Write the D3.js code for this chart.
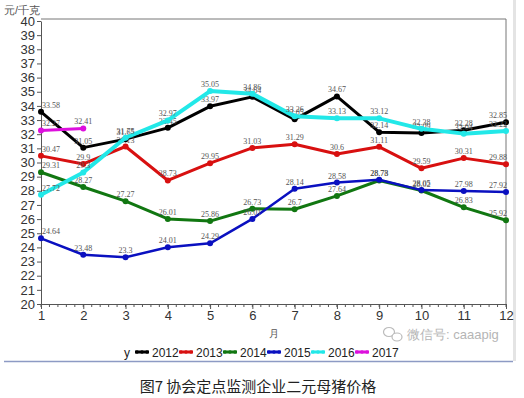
<!DOCTYPE html>
<html>
<head>
<meta charset="utf-8">
<script src="https://cdn.jsdelivr.net/npm/d3@7"></script>
<style>
  body { margin: 0; background: #fff; }
  svg { display: block; font-family: "Liberation Sans", Arial, sans-serif; }
</style>
</head>
<body>
<div id="chart"></div>
<script>
// months and yearly series (元/千克)
const months = [1, 2, 3, 4, 5, 6, 7, 8, 9, 10, 11, 12];
const years = ["2012", "2013", "2014", "2015", "2016", "2017"];
const colors = ["#000000", "#d81010", "#117711", "#0a10c0", "#22e8e8", "#dd10dd"];
const s2012 = [33.58, 31.05, 31.65, 32.45, 33.97, 34.64, 33.05, 34.67, 32.14, 32.09, 32.28, 32.85];
const s2013 = [30.47, 29.9, 31.13, 28.73, 29.95, 31.03, 31.29, 30.6, 31.11, 29.59, 30.31, 29.88];
const s2014 = [29.31, 28.27, 27.27, 26.01, 25.86, 26.73, 26.7, 27.64, 28.73, 28.02, 26.83, 25.92];
const s2015 = [24.64, 23.48, 23.3, 24.01, 24.29, 26.01, 28.14, 28.58, 28.78, 28.05, 27.98, 27.92];
const s2016 = [27.72, 29.3, 31.75, 32.97, 35.05, 34.86, 33.26, 33.13, 33.12, 32.38, 32.04, 32.22];
const s2017 = [32.27, 32.41];
const seriesValues = [s2012, s2013, s2014, s2015, s2016, s2017];
const yTicks = d3.range(20, 41);

const width = 524, height = 398;
const margin = {top: 21, left: 41, right: 18, bottom: 95};

const svg = d3.select("#chart").append("svg")
  .attr("width", width)
  .attr("height", height);

const x = d3.scaleLinear().domain([1, 12]).range([margin.left, width - margin.right]);
const y = d3.scaleLinear().domain([20, 40]).range([height - margin.bottom + 1, margin.top]);

// frame (top + right)
svg.append("path")
  .attr("d", `M${margin.left},19H${x(12)}V${y(20)}`)
  .attr("fill", "none")
  .attr("stroke", "#777")
  .attr("stroke-width", 1);

// outer decoration lines of the screenshot
svg.append("line")
  .attr("x1", 4).attr("x2", 513).attr("y1", 361.5).attr("y2", 361.5)
  .attr("stroke", "#8d9ac4").attr("stroke-width", 1.5);
svg.append("line")
  .attr("x1", 514.5).attr("x2", 514.5).attr("y1", 0).attr("y2", 361)
  .attr("stroke", "#e4e4e4").attr("stroke-width", 3);

// Y axis
const yAxis = svg.append("g")
  .attr("transform", `translate(${margin.left},0)`)
  .call(d3.axisLeft(y).tickValues(yTicks).tickSize(4).tickSizeOuter(0).tickPadding(2));
yAxis.select(".domain").attr("stroke", "#555");
yAxis.selectAll(".tick line").attr("stroke", "#555");
yAxis.selectAll("text").attr("font-size", 13).attr("fill", "#333");

// X axis with minor ticks
const minor = d3.range(1, 12.001, 0.2);
svg.append("g")
  .attr("transform", `translate(0,${y(20)})`)
  .selectAll("line")
  .data(minor)
  .join("line")
    .attr("x1", d => x(d)).attr("x2", d => x(d))
    .attr("y1", 0).attr("y2", 3)
    .attr("stroke", "#555");
const xAxis = svg.append("g")
  .attr("transform", `translate(0,${y(20)})`)
  .call(d3.axisBottom(x).tickValues(months).tickSize(5).tickSizeOuter(0).tickPadding(2));
xAxis.select(".domain").attr("stroke", "#555");
xAxis.selectAll(".tick line").attr("stroke", "#555");
xAxis.selectAll("text").attr("font-size", 13).attr("fill", "#333");

// axis titles
svg.append("text")
  .attr("x", 4).attr("y", 14)
  .attr("font-size", 11).attr("fill", "#555")
  .text("元/千克");
svg.append("text")
  .attr("x", x(6.5)).attr("y", 337)
  .attr("text-anchor", "middle")
  .attr("font-size", 10).attr("fill", "#555")
  .text("月");

// lines, points, labels
const line = d3.line()
  .x((d, i) => x(months[i]))
  .y(d => y(d));

const widths = [3, 3, 3, 2.5, 4, 3];

seriesValues.forEach((vals, k) => {
  svg.append("path")
    .datum(vals)
    .attr("fill", "none")
    .attr("stroke", colors[k])
    .attr("stroke-width", widths[k])
    .attr("stroke-linejoin", "round")
    .attr("d", line);

  svg.selectAll(null)
    .data(vals)
    .join("circle")
      .attr("cx", (d, i) => x(months[i]))
      .attr("cy", d => y(d))
      .attr("r", 3)
      .attr("fill", colors[k]);

  svg.selectAll(null)
    .data(vals)
    .join("text")
      .attr("x", (d, i) => Math.max(x(1) + 10, Math.min(x(12) - 8, x(months[i]))))
      .attr("y", d => y(d) - 4)
      .attr("text-anchor", "middle")
      .attr("font-family", "Liberation Serif, serif")
      .attr("font-size", 8)
      .attr("fill", "#555")
      .text(d => d);
});

// legend
const legend = svg.append("g").attr("transform", "translate(0,352)");
legend.append("text")
  .attr("x", 124).attr("y", 5)
  .attr("font-size", 12).attr("fill", "#222")
  .text("y");
years.forEach((yr, k) => {
  const lx = 135 + k * 44;
  legend.append("line")
    .attr("x1", lx).attr("x2", lx + 14)
    .attr("stroke", colors[k]).attr("stroke-width", 3);
  legend.selectAll(null)
    .data([lx + 2, lx + 7, lx + 12])
    .join("circle")
      .attr("cx", d => d).attr("cy", 0).attr("r", 1.8)
      .attr("fill", colors[k]);
  legend.append("text")
    .attr("x", lx + 17).attr("y", 5)
    .attr("font-size", 12).attr("fill", "#222")
    .text(yr);
});

// watermark
const wm = svg.append("g").attr("fill", "#bbb").attr("stroke", "#bbb");
wm.append("ellipse").attr("cx", 389).attr("cy", 332).attr("rx", 5.5).attr("ry", 4.5)
  .attr("fill", "none").attr("stroke-width", 1.2);
wm.append("ellipse").attr("cx", 397).attr("cy", 337).attr("rx", 5).attr("ry", 4)
  .attr("fill", "#fff").attr("stroke-width", 1.2);
svg.append("text")
  .attr("x", 407).attr("y", 339)
  .attr("font-size", 13).attr("fill", "#b5b5b5")
  .text("微信号: caaapig");

// caption
svg.append("text")
  .attr("x", 258).attr("y", 392)
  .attr("text-anchor", "middle")
  .attr("font-family", "Noto Sans CJK SC, sans-serif")
  .attr("font-size", 15).attr("fill", "#222")
  .text("图7  协会定点监测企业二元母猪价格");
</script>
</body>
</html>
